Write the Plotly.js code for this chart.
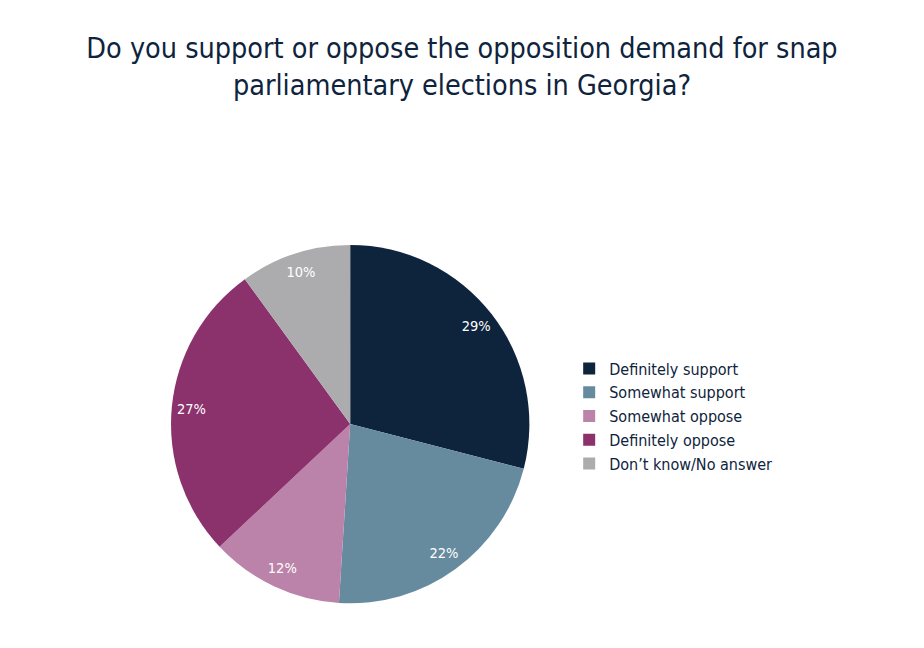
<!DOCTYPE html>
<html><head><meta charset="utf-8">
<script src="https://cdn.plot.ly/plotly-3.0.1.min.js"></script>
<style>body{margin:0;background:#fff}#chart{width:924px;height:648px}</style>
</head><body><div id="chart"></div>
<script>
const categories = ["Definitely support", "Somewhat support", "Somewhat oppose", "Definitely oppose", "Don’t know/No answer"];
const values = [29, 22, 12, 27, 10];
const colors = ["#0e233c", "#668a9e", "#bb83a9", "#8b316c", "#acacae"];
const titleText = "Do you support or oppose the opposition demand for snap<br>parliamentary elections in Georgia?";
const FONT = "DejaVu Sans Condensed, DejaVu Sans, sans-serif";
const DOMAIN = {x: [0.185, 0.573], y: [0.069, 0.622]};

Plotly.newPlot("chart", [{
  type: "pie",
  labels: categories,
  values: values,
  sort: false,
  direction: "clockwise",
  rotation: 0,
  marker: {colors: colors, line: {width: 0}},
  textinfo: "none",
  domain: DOMAIN,
  hoverinfo: "label+percent"
}, {
  type: "pie",
  labels: categories,
  values: values,
  sort: false,
  direction: "clockwise",
  rotation: 0,
  hole: 0.78,
  showlegend: false,
  marker: {colors: values.map(() => "rgba(0,0,0,0)"), line: {width: 0}},
  texttemplate: "%{value}%",
  textposition: "inside",
  insidetextorientation: "horizontal",
  textfont: {family: FONT, size: 14.5, color: "#ffffff"},
  domain: DOMAIN,
  hoverinfo: "skip"
}], {
  width: 924, height: 648,
  margin: {l: 0, r: 0, t: 0, b: 0},
  paper_bgcolor: "#ffffff",
  font: {family: FONT, color: "#0e233c"},
  title: {text: titleText, font: {family: FONT, size: 28.5, color: "#0e233c"}, x: 0.5, xanchor: "center", y: 0.911, yanchor: "middle", yref: "container"},
  showlegend: true,
  legend: {x: 0.616, y: 0.358, xanchor: "left", yanchor: "middle", font: {family: FONT, size: 16, color: "#0e233c"}, bgcolor: "rgba(0,0,0,0)"}
}, {displayModeBar: false});
</script></body></html>
